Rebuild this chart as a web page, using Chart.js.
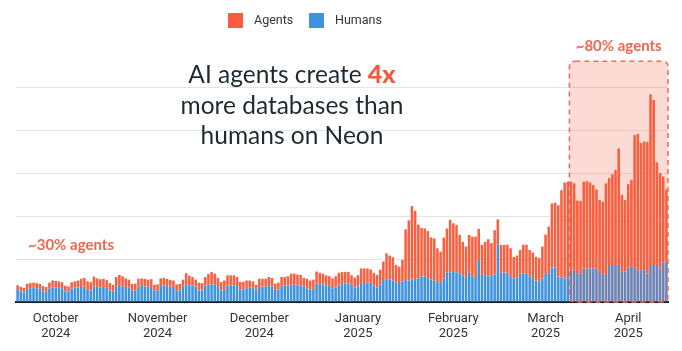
<!DOCTYPE html>
<html>
<head>
<meta charset="utf-8">
<script src="https://cdn.jsdelivr.net/npm/chart.js@4.4.1/dist/chart.umd.min.js"></script>
<style>
  html, body { margin: 0; padding: 0; background: #fff; }
</style>
</head>
<body>
<canvas id="myChart" width="682" height="351"></canvas>
<script>
// daily new databases on Neon, 20 Sep 2024 .. 12 Apr 2025 (grid step = 100)
var startDate = new Date(2024, 8, 20);
var days = [];
for (var d = 0; d < 205; d++) {
    var dt = new Date(startDate.getTime() + d * 86400000);
    days.push(dt.toISOString().slice(0, 10));
}

var humans = [
    30, 24, 22, 30, 32, 33, 32, 31, 25, 24,
    31, 34, 34, 33, 32, 25, 24, 31, 33, 34,
    35, 36, 28, 27, 36, 35, 34, 35, 34, 26,
    25, 36, 37, 36, 35, 34, 26, 26, 36, 37,
    36, 35, 35, 26, 26, 37, 38, 37, 36, 35,
    26, 26, 36, 40, 39, 38, 36, 27, 27, 38,
    40, 41, 40, 37, 27, 28, 38, 38, 38, 37,
    30, 29, 32, 34, 33, 28, 35, 36, 36, 37,
    36, 28, 29, 37, 38, 38, 40, 40, 39, 39,
    36, 32, 29, 30, 43, 42, 41, 38, 37, 32,
    34, 38, 42, 43, 43, 40, 34, 36, 44, 44,
    45, 44, 38, 34, 40, 51, 53, 52, 50, 46,
    44, 48, 51, 50, 52, 51, 55, 59, 59, 58,
    52, 50, 46, 44, 55, 69, 69, 70, 69, 67,
    62, 58, 68, 60, 56, 98, 63, 63, 62, 60,
    64, 133, 68, 68, 68, 58, 55, 56, 66, 67,
    67, 60, 55, 50, 47, 55, 67, 67, 80, 80,
    59, 57, 55, 60, 74, 74, 67, 67, 78, 78,
    78, 78, 78, 70, 63, 65, 86, 86, 86, 86,
    71, 71, 80, 82, 80, 74, 74, 74, 66, 86,
    86, 86, 78, 92, 94
];

var agents = [
    9, 11, 11, 12, 12, 12, 12, 11, 12, 11,
    14, 16, 15, 15, 14, 13, 12, 15, 15, 16,
    19, 20, 20, 19, 23, 20, 19, 19, 17, 18,
    15, 22, 26, 24, 20, 18, 16, 17, 18, 18,
    18, 17, 18, 14, 15, 18, 18, 17, 15, 15,
    15, 16, 16, 27, 22, 20, 16, 18, 17, 20,
    25, 29, 26, 19, 19, 22, 24, 24, 24, 21,
    17, 18, 18, 16, 15, 12, 19, 18, 18, 21,
    20, 15, 16, 21, 20, 22, 26, 26, 25, 24,
    20, 22, 21, 22, 28, 26, 25, 24, 23, 23,
    26, 30, 28, 27, 27, 22, 23, 26, 34, 34,
    33, 32, 30, 29, 35, 43, 60, 56, 54, 40,
    38, 50, 118, 140, 171, 161, 125, 113, 112, 107,
    98, 98, 79, 73, 95, 102, 122, 113, 110, 89,
    78, 71, 88, 92, 96, 72, 70, 77, 84, 77,
    103, 59, 65, 65, 65, 67, 50, 52, 55, 66,
    66, 61, 60, 55, 55, 74, 90, 108, 149, 151,
    166, 203, 223, 220, 206, 202, 169, 168, 202, 203,
    200, 194, 184, 167, 170, 211, 202, 211, 221, 271,
    178, 166, 194, 202, 308, 317, 296, 299, 306, 397,
    384, 239, 222, 200, 168
];

var monthTickIdx = [12, 44, 76, 107, 137, 166, 192];
var monthLabels = [
    ['October', '2024'], ['November', '2024'], ['December', '2024'],
    ['January', '2025'], ['February', '2025'], ['March', '2025'], ['April', '2025']
];
var gridTicks = [0, 100, 200, 300, 400, 500];

var highlightFrom = 174;   // first day inside the "~80% agents" box
var highlightTop = 560;

var orange = '#f8603f';
var blue = '#3f92dd';
var salmon = '#ef6650';

function roundedRect(ctx, x, y, w, h, r) {
    ctx.beginPath();
    ctx.moveTo(x + r, y);
    ctx.lineTo(x + w - r, y);
    ctx.quadraticCurveTo(x + w, y, x + w, y + r);
    ctx.lineTo(x + w, y + h - r);
    ctx.quadraticCurveTo(x + w, y + h, x + w - r, y + h);
    ctx.lineTo(x + r, y + h);
    ctx.quadraticCurveTo(x, y + h, x, y + h - r);
    ctx.lineTo(x, y + r);
    ctx.quadraticCurveTo(x, y, x + r, y);
    ctx.closePath();
}

var overlay = {
    id: 'overlay',
    afterDatasetsDraw: function (chart) {
        var ctx = chart.ctx, xs = chart.scales.x, ys = chart.scales.y, area = chart.chartArea;
        var half = (xs.getPixelForValue(1) - xs.getPixelForValue(0)) / 2;
        var left = xs.getPixelForValue(highlightFrom) - half;
        var top = ys.getPixelForValue(highlightTop);
        ctx.save();
        roundedRect(ctx, left, top, area.right - left, area.bottom - top, 6);
        ctx.fillStyle = 'rgba(245, 92, 62, 0.22)';
        ctx.fill();
        ctx.setLineDash([5, 4]);
        ctx.strokeStyle = '#ee6b55';
        ctx.lineWidth = 1.5;
        ctx.stroke();
        ctx.restore();

        // annotations
        ctx.save();
        ctx.fillStyle = salmon;
        ctx.font = 'bold 15px Lato';
        ctx.textBaseline = 'middle';
        ctx.textAlign = 'left';
        ctx.fillText('~30% agents', 28, 245);
        ctx.textAlign = 'center';
        ctx.fillText('~80% agents', (left + area.right) / 2, 46);
        ctx.restore();
    },
    afterDraw: function (chart) {
        var ctx = chart.ctx;
        ctx.save();
        ctx.textBaseline = 'middle';
        // headline
        var cx = 292;
        var p1 = 'AI agents create ', p2 = '4x';
        ctx.font = '400 24.5px Lato';
        var w1 = ctx.measureText(p1).width;
        ctx.font = '900 25px Lato';
        var w2 = ctx.measureText(p2).width;
        var sx = cx - (w1 + w2) / 2;
        ctx.textAlign = 'left';
        ctx.font = '400 24.5px Lato';
        ctx.fillStyle = '#1d2a33';
        ctx.fillText(p1, sx, 75);
        ctx.font = '900 25px Lato';
        ctx.fillStyle = '#f4583b';
        ctx.fillText(p2, sx + w1, 75);
        ctx.textAlign = 'center';
        ctx.font = '400 24.5px Lato';
        ctx.fillStyle = '#1d2a33';
        ctx.fillText('more databases than', cx, 106);
        ctx.fillText('humans on Neon', cx, 136);

        // legend
        ctx.font = '400 12.5px Roboto';
        ctx.fillStyle = '#fb5b44';
        ctx.fillRect(228, 13, 15, 15);
        ctx.fillStyle = blue;
        ctx.fillRect(309, 13, 15, 15);
        ctx.fillStyle = '#333';
        ctx.textAlign = 'left';
        ctx.fillText('Agents', 254, 21);
        ctx.fillText('Humans', 335, 21);
        ctx.restore();
    }
};

window.onload = function () {
    var myChart = new Chart(document.getElementById('myChart'), {
        type: 'bar',
        data: {
            labels: days,
            datasets: [{
                label: 'Humans',
                data: humans,
                backgroundColor: blue,
                barPercentage: 0.8,
                categoryPercentage: 1.0
            }, {
                label: 'Agents',
                data: agents,
                backgroundColor: orange,
                barPercentage: 0.8,
                categoryPercentage: 1.0
            }]
        },
        options: {
            responsive: false,
            animation: false,
            layout: {
                padding: { top: 44, left: 16, right: 14, bottom: 0 }
            },
            plugins: {
                legend: { display: false },
                tooltip: { enabled: false }
            },
            scales: {
                x: {
                    stacked: true,
                    grid: { display: false, drawTicks: false },
                    border: { display: true, color: '#1c1c1c', width: 2 },
                    ticks: {
                        autoSkip: false,
                        maxRotation: 0,
                        minRotation: 0,
                        padding: 9,
                        color: '#333',
                        font: { family: 'Roboto', size: 13, lineHeight: 1.15 },
                        callback: function (value, index) {
                            var k = monthTickIdx.indexOf(index);
                            return k < 0 ? '' : monthLabels[k];
                        }
                    },
                    afterFit: function (scale) { scale.height = 49; }
                },
                y: {
                    stacked: true,
                    min: 0,
                    max: 600,
                    grid: {
                        drawTicks: false,
                        color: function (c) { return c.tick.value === 0 ? 'rgba(0,0,0,0)' : '#e4e4e4'; }
                    },
                    border: { display: false },
                    ticks: { display: false },
                    afterBuildTicks: function (scale) {
                        scale.ticks = gridTicks.map(function (v) { return { value: v }; });
                    },
                    afterFit: function (scale) { scale.width = 0; }
                }
            }
        },
        plugins: [overlay]
    });
};
</script>
</body>
</html>
